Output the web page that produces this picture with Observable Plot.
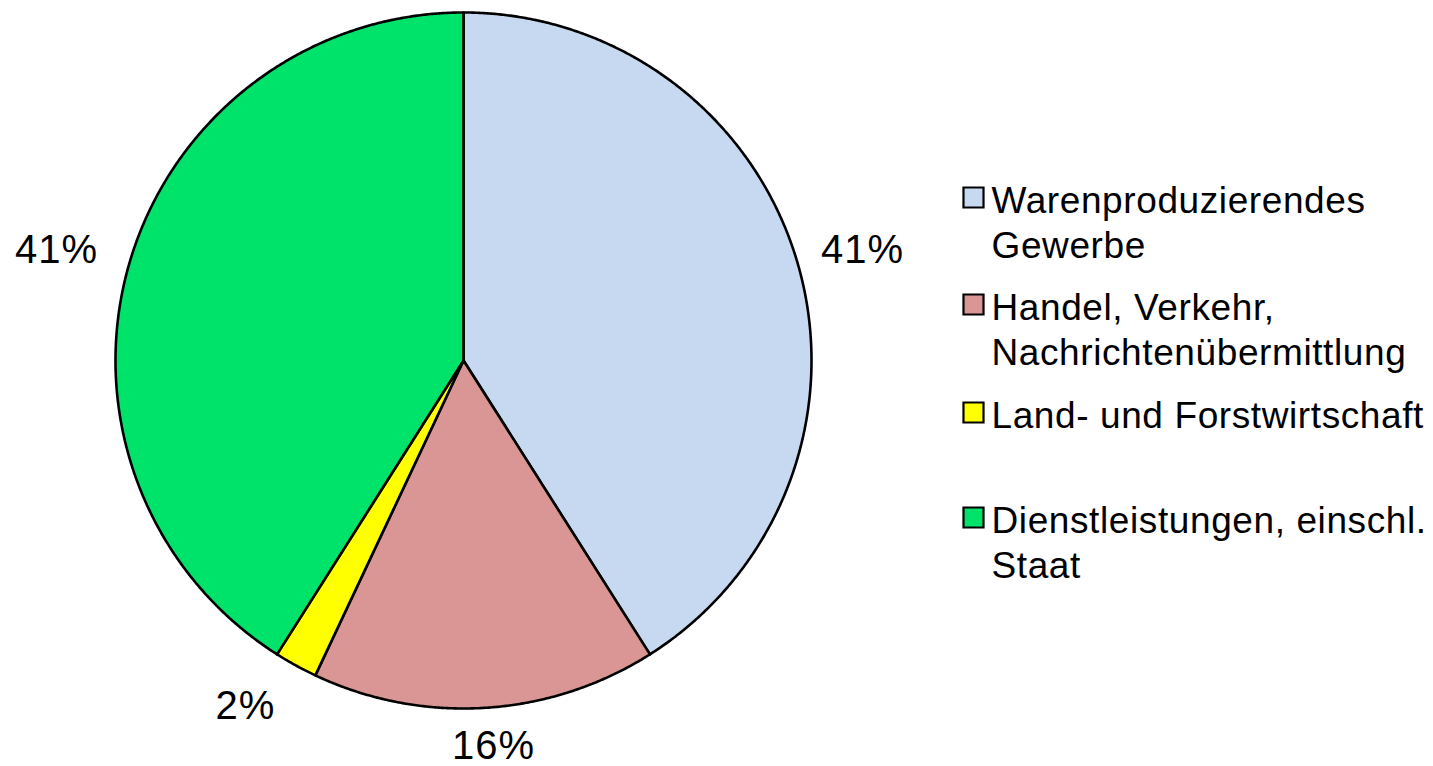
<!DOCTYPE html>
<html>
<head>
<meta charset="utf-8">
<script src="https://cdn.jsdelivr.net/npm/d3@7"></script>
<script src="https://cdn.jsdelivr.net/npm/@observablehq/plot@0.6"></script>
<style>
  html, body { margin: 0; padding: 0; background: #fff; }
  #chart { width: 1433px; height: 766px; }
  #chart svg text { font-family: "Liberation Sans", Arial, sans-serif; }
  #chart svg g.legend-text text { letter-spacing: 0.6px; }
  #chart svg g.pct-text text { letter-spacing: 1px; }
</style>
</head>
<body>
<div id="chart"></div>
<script>
// ---- data ----
const categories = [
  "Warenproduzierendes\nGewerbe",
  "Handel, Verkehr,\nNachrichtenübermittlung",
  "Land- und Forstwirtschaft",
  "Dienstleistungen, einschl.\nStaat"
];
const values = [41, 16, 2, 41];
const valueLabels = ["41%", "16%", "2%", "41%"];
const colors = ["#C6D9F1", "#D99694", "#FFFF00", "#00E36B"];

// ---- layout (pixels) ----
const W = 1433, H = 766;
const CX = 463, CY = 360, R = 348;
const toX = px => (px - CX) / R;
const toY = py => (CY - py) / R;

// pie geometry
const arcs = d3.pie().sort(null).startAngle(0).endAngle(2 * Math.PI)(values);
const slices = [];
arcs.forEach((a, i) => {
  const k = categories[i];
  slices.push({k, x: 0, y: 0, c: colors[i]});
  const n = Math.max(4, Math.ceil((a.endAngle - a.startAngle) / 0.005));
  for (let j = 0; j <= n; j++) {
    const t = a.startAngle + (a.endAngle - a.startAngle) * j / n;
    slices.push({k, x: Math.sin(t), y: Math.cos(t), c: colors[i]});
  }
  slices.push({k, x: 0, y: 0, c: colors[i]});
});

// percentage label positions (pixel centres)
const labelPos = [[862, 250], [493, 746], [245, 706], [56, 250]];
const labels = valueLabels.map((t, i) => ({t, x: toX(labelPos[i][0]), y: toY(labelPos[i][1])}));

// legend
const legendRowsY = [197, 304, 412, 517];
const legend = categories.map((k, i) => ({
  k, c: colors[i],
  sx: toX(973), sy: toY(legendRowsY[i]),
  tx: toX(991), ty: toY(legendRowsY[i] - 17)
}));

const FONT = "'Liberation Sans', Arial, sans-serif";

const plot = Plot.plot({
  width: W, height: H,
  margin: 0,
  x: {domain: [-1, 1], range: [CX - R, CX + R], axis: null},
  y: {domain: [-1, 1], range: [CY + R, CY - R], axis: null},
  style: {background: "#fff", overflow: "visible"},
  marks: [
    Plot.line(slices, {x: "x", y: "y", z: "k", fill: d => d.c, stroke: "#000", strokeWidth: 2.6, strokeLinejoin: "round", curve: "linear"}),
    Plot.text(labels, {x: "x", y: "y", text: "t", fontSize: 40, fontFamily: FONT, fill: "#000", textAnchor: "middle", className: "pct-text"}),
    Plot.dot(legend, {x: "sx", y: "sy", symbol: "square", r: 11.3, fill: d => d.c, stroke: "#000", strokeWidth: 2.2}),
    Plot.text(legend, {x: "tx", y: "ty", text: "k", fontSize: 37, fontFamily: FONT, lineHeight: 1.22, lineAnchor: "top", textAnchor: "start", fill: "#000", className: "legend-text"})
  ]
});
document.getElementById("chart").appendChild(plot);
</script>
</body>
</html>
